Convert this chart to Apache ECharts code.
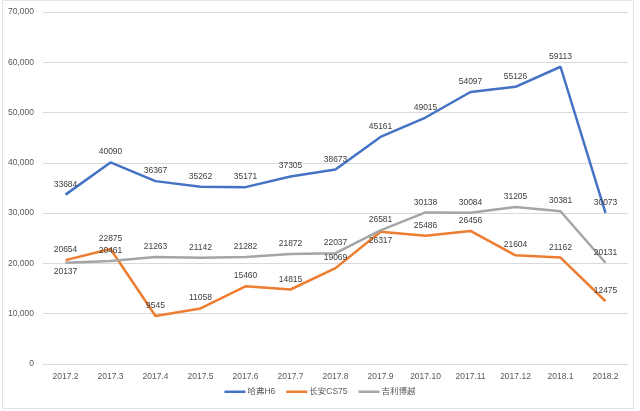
<!DOCTYPE html>
<html>
<head>
<meta charset="utf-8">
<script src="https://cdn.jsdelivr.net/npm/echarts@6/dist/echarts.min.js"></script>
<style>html,body{margin:0;padding:0;background:#fff;}#c{width:640px;height:411px;}</style>
</head>
<body>
<div id="c"></div>
<script>
const categories = ['2017.2','2017.3','2017.4','2017.5','2017.6','2017.7','2017.8','2017.9','2017.10','2017.11','2017.12','2018.1','2018.2'];
const seriesNames = ['哈弗H6','长安CS75','吉利博越'];
const haval = [33684, 40090, 36367, 35262, 35171, 37305, 38673, 45161, 49015, 54097, 55126, 59113, 30073];
const cs75 = [20654, 22875, 9545, 11058, 15460, 14815, 19069, 26317, 25486, 26456, 21604, 21162, 12475];
const boyue = [20137, 20461, 21263, 21142, 21282, 21872, 22037, 26581, 30138, 30084, 31205, 30381, 20131];
// data label placements (which labels sit below their point)
const cs75Below = ['2017.9'];
const boyueBelow = ['2017.2'];

const FONT = 'Liberation Sans, Noto Sans CJK SC, sans-serif';
const colors = ['#4472C4', '#ED7D31', '#A5A5A5'];

function mk(values, below) {
  return values.map((v, i) => {
    const d = { value: v };
    if (below.indexOf(categories[i]) >= 0) {
      d.label = { position: 'bottom', distance: 5 };
    }
    return d;
  });
}

function series(name, values, below, color) {
  return {
    name: name,
    type: 'line',
    data: mk(values, below),
    symbol: 'circle',
    symbolSize: 0.01,
    showSymbol: true,
    showAllSymbol: true,
    smooth: false,
    lineStyle: { width: 2.5, color: color },
    itemStyle: { color: color },
    label: {
      show: true,
      position: 'top',
      distance: 6,
      fontSize: 8.5,
      fontFamily: FONT,
      color: '#404040'
    },
    labelLayout: { hideOverlap: false },
    emphasis: { disabled: true },
    animation: false
  };
}

const chart = echarts.init(document.getElementById('c'), null, { renderer: 'canvas' });
chart.setOption({
  animation: false,
  backgroundColor: '#ffffff',
  color: colors,
  grid: { left: 43, right: 12, top: 12, bottom: 47, containLabel: false },
  xAxis: {
    type: 'category',
    data: categories,
    boundaryGap: true,
    axisLine: { show: true, lineStyle: { color: '#d9d9d9', width: 1 } },
    axisTick: { show: false },
    axisLabel: { color: '#595959', fontSize: 8.5, fontFamily: FONT, margin: 8, interval: 0 }
  },
  yAxis: {
    type: 'value',
    min: 0,
    max: 70000,
    interval: 10000,
    axisLine: { show: false },
    axisTick: { show: false },
    splitLine: { lineStyle: { color: '#d9d9d9', width: 1 } },
    axisLabel: {
      color: '#595959', fontSize: 8.5, fontFamily: FONT, margin: 9,
      formatter: v => v.toLocaleString('en-US')
    }
  },
  legend: {
    data: seriesNames,
    left: 'center',
    bottom: 10,
    icon: 'rect',
    itemWidth: 21,
    itemHeight: 2.5,
    itemGap: 11,
    textStyle: { color: '#595959', fontSize: 8.5, fontFamily: FONT, padding: [0, 0, 0, -3] }
  },
  graphic: [{
    type: 'rect',
    shape: { x: 2.5, y: 0.5, width: 631, height: 408 },
    style: { fill: 'none', stroke: '#e3e3e3', lineWidth: 1 },
    silent: true,
    z: -1
  }],
  series: [
    series(seriesNames[0], haval, [], colors[0]),
    series(seriesNames[1], cs75, cs75Below, colors[1]),
    series(seriesNames[2], boyue, boyueBelow, colors[2])
  ]
});
</script>
</body>
</html>
